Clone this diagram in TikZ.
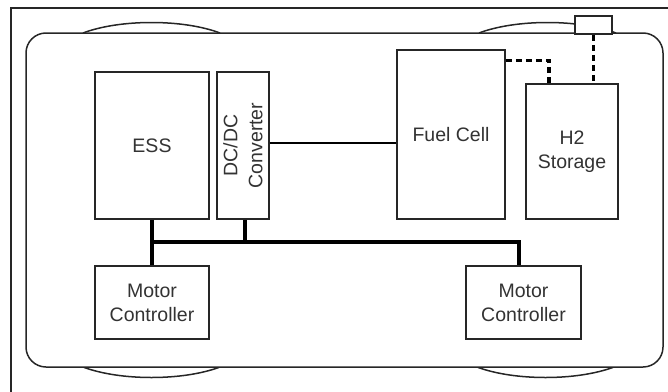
\documentclass[tikz,border=0pt]{standalone}
\usepackage{fontspec}
\setmainfont{Liberation Sans}
\usetikzlibrary{positioning,calc}

\begin{document}
\begin{tikzpicture}[x=1pt, y=-1pt, line join=miter]
        \tikzset{blk/.style={rectangle, draw=black!85, line width=1.5pt, fill=white, align=center, inner sep=0pt, text=black!80, font=\fontsize{19.5}{24}\selectfont}, bus/.style={line width=4pt, black}, h2line/.style={line width=3.5pt, black, dash pattern=on 6pt off 4pt}, body/.style={draw=black!85, line width=1.5pt}}
        \clip (0,0) rectangle (668,391);
        % outer frame
        \draw[body] (11,8) rectangle (700,420);
        % wheels
        \draw[body] (83,33) .. controls (120,19) and (183,19) .. (220,33);
        \draw[body] (479,33) .. controls (516,19) and (579,19) .. (616,33);
        \draw[body] (83,367) .. controls (120,381) and (183,381) .. (220,367);
        \draw[body] (477,367) .. controls (514,381) and (577,381) .. (614,367);
        % car body
        \draw[body, fill=white, rounded corners=20pt] (26,33) rectangle (663,367);
        \node[blk, minimum width=37, minimum height=18] (tank) at (593.5,25) {};
        \node[blk, minimum width=114, minimum height=147] (ess) at (152,145.5) {ESS};
        \node[blk, minimum width=52, minimum height=147] (dcdc) at (243,145.5) {};
        \node[rotate=90, align=center, text=black!80, font=\fontsize{19.5}{25}\selectfont] (dcdctext) at (dcdc.center) {DC/DC\\Converter};
        \node[blk, minimum width=108, minimum height=169] (fc) at (451,134.5) {Fuel Cell};
        \node[blk, minimum width=92, minimum height=135] (h2) at (572,151.5) {H2\\Storage};
        \node[blk, minimum width=114, minimum height=73] (mc1) at (152,302.5) {Motor\\Controller};
        \node[blk, minimum width=115, minimum height=73] (mc2) at (523.5,302.5) {Motor\\Controller};
        \coordinate (busy) at (0,242);
        \draw[line width=2pt] ([yshift=2.5pt]dcdc.east) -- ([yshift=2.5pt]dcdc.east -| fc.west);
        \draw[bus] (ess.south) -- (mc1.north);
        \draw[bus] (ess.south |- busy) -| ([xshift=-4.5pt]mc2.north);
        \draw[bus] ([xshift=2pt]dcdc.south) -- ([xshift=2pt]dcdc.south |- busy);
        \draw[h2line] ([yshift=-11pt]fc.north east) -| ([xshift=-23pt]h2.north);
        \draw[h2line] (tank.south) -- (tank.south |- h2.north);
    \end{tikzpicture}
\end{document}
